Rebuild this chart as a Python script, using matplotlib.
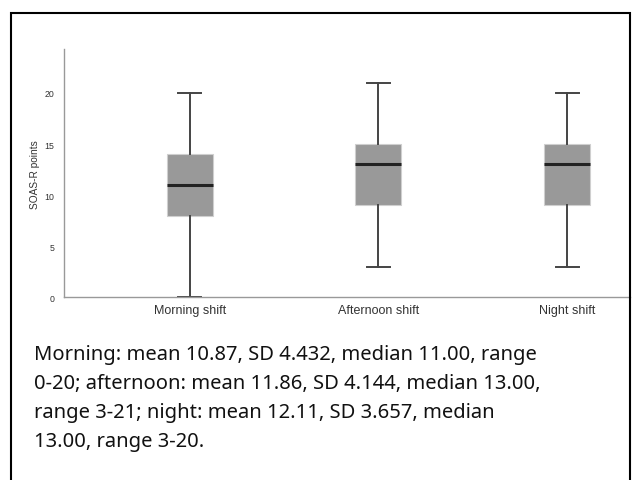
import matplotlib.pyplot as plt
from matplotlib.patches import Rectangle

shifts = ['Morning shift', 'Afternoon shift', 'Night shift']
whislo = [0, 3, 3]
q1 = [8, 9, 9]
med = [11, 13, 13]
q3 = [14, 15, 15]
whishi = [20, 21, 20]
yticks = [0, 5, 10, 15, 20]

caption = ("Morning: mean 10.87, SD 4.432, median 11.00, range\n"
           "0-20; afternoon: mean 11.86, SD 4.144, median 13.00,\n"
           "range 3-21; night: mean 12.11, SD 3.657, median\n"
           "13.00, range 3-20.")

W, H = 632, 481
fig = plt.figure(figsize=(W / 100, H / 100), dpi=100)

# outer frame (open at the bottom)
fig.add_artist(Rectangle((11 / W, -0.05), 619 / W, 1.05 - 14 / H,
                         transform=fig.transFigure, fill=False,
                         edgecolor='black', linewidth=1.5))

ax = fig.add_axes([64 / W, 1 - 298.3 / H, (630 - 64) / W, (298.3 - 50) / H])

stats = []
for i in range(len(shifts)):
    stats.append({'whislo': whislo[i], 'q1': q1[i], 'med': med[i],
                  'q3': q3[i], 'whishi': whishi[i], 'fliers': []})

step = 188.6
ax.bxp(stats, positions=[0, 1, 2], widths=46 / step, patch_artist=True,
       showfliers=False,
       boxprops=dict(facecolor='#999999', edgecolor='#cfcfcf', linewidth=0.8),
       medianprops=dict(color='#222222', linewidth=2.2),
       whiskerprops=dict(color='#444444', linewidth=1.4),
       capprops=dict(color='#444444', linewidth=1.4),
       capwidths=23 / step)

ax.set_xlim(-(190 - 64) / step, 2 + (630 - 567) / step)
ax.set_ylim(0, 24.3)
ax.set_yticks(yticks)
ax.set_xticks([0, 1, 2])
ax.set_xticklabels(shifts, fontsize=9, family='Liberation Sans', color='#333333')
ax.set_yticklabels([str(v) for v in yticks], fontsize=6.3, family='Liberation Sans',
                   color='#333333')
ax.tick_params(length=0, pad=7)
ax.tick_params(axis='x', pad=5)
ax.set_ylabel('SOAS-R points', fontsize=7.3, family='Liberation Sans', color='#333333',
              labelpad=3)
for s in ['top', 'right']:
    ax.spines[s].set_visible(False)
for s in ['left', 'bottom']:
    ax.spines[s].set_color('#999999')
    ax.spines[s].set_linewidth(1.0)

fig.text(34 / W, 1 - 345 / H, caption, fontsize=14.5, family='Noto Sans',
         va='top', ha='left', linespacing=1.6, color='#111111')

fig.savefig('out.png', dpi=100)
